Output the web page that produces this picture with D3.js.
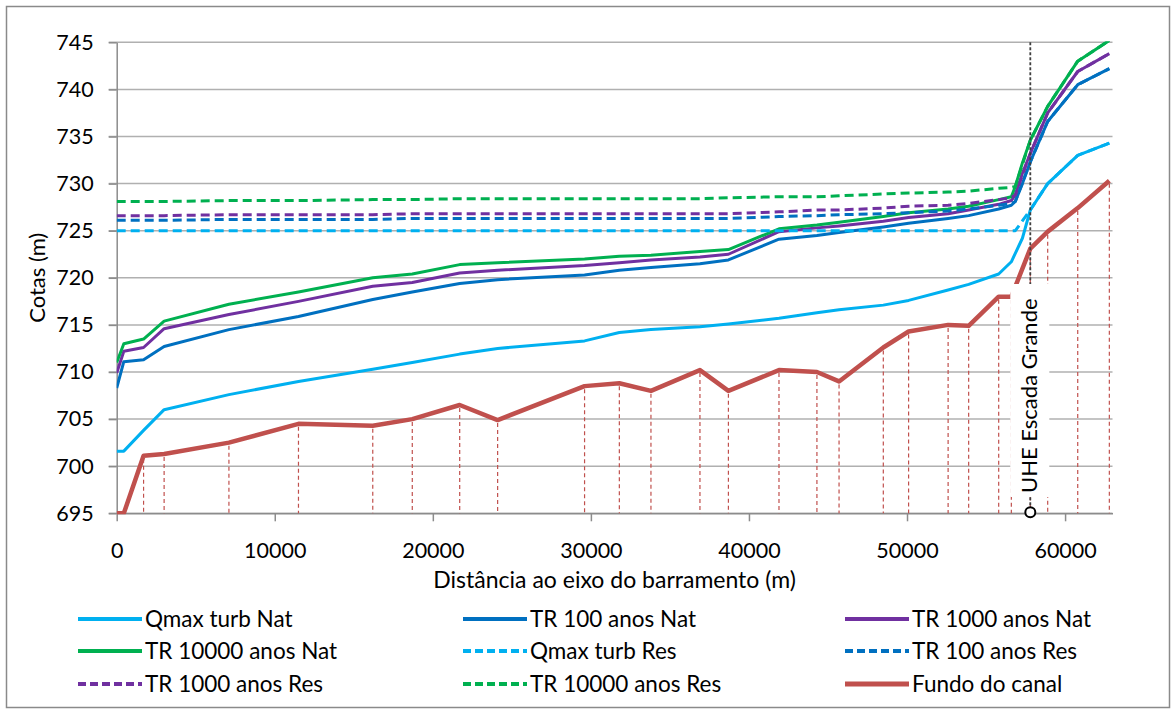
<!DOCTYPE html>
<html lang="pt">
<head>
<meta charset="UTF-8">
<title>Perfil de linha d'água - UHE Escada Grande</title>
<script src="https://cdnjs.cloudflare.com/ajax/libs/d3/7.8.5/d3.min.js"></script>
<style>
  body { margin: 0; background: #fff; }
  svg text { font-family: Lato, "Open Sans", sans-serif; fill: #000; }
</style>
</head>
<body>
<div id="chart"></div>
<script>
// distance of each cross section to the dam axis (m)
const dist = [0, 450, 1700, 3000, 7100, 11500, 16200, 18700, 21700, 24100,
  29600, 31800, 33800, 36900, 38700, 41900, 44300, 45700, 48500, 50100,
  52600, 53900, 55800, 56600, 56850, 57300, 57800, 58900, 60800, 62800];

// water levels (m), null = no value at that section
const qmaxNat = [701.6, 701.6, 703.8, 706.0, 707.6, 709.0, 710.3, 711.0, 711.9, 712.5,
  713.3, 714.2, 714.5, 714.8, 715.1, 715.7, 716.3, 716.6, 717.1, 717.6,
  718.7, 719.3, 720.4, 721.7, 722.6, 724.2, 727.2, 730.0, 733.0, 734.3];
const tr100Nat = [708.3, 711.1, 711.3, 712.7, 714.5, 715.9, 717.7, 718.5, 719.4, 719.8,
  720.3, 720.8, 721.1, 721.5, 721.9, 724.1, 724.5, 724.8, 725.4, 725.8,
  726.3, 726.6, 727.3, 727.7, 728.1, 730.0, 732.3, 736.6, 740.5, 742.2];
const tr1000Nat = [709.9, 712.2, 712.6, 714.6, 716.1, 717.5, 719.1, 719.5, 720.5, 720.8,
  721.3, 721.6, 721.9, 722.2, 722.5, 724.9, 725.3, 725.5, 726.0, 726.4,
  726.8, 727.2, 727.8, 728.2, 728.8, 731.1, 733.2, 737.5, 741.9, 743.8];
const tr10000Nat = [711.0, 713.0, 713.5, 715.4, 717.2, 718.5, 720.0, 720.4, 721.4, 721.6,
  722.0, 722.3, 722.4, 722.8, 723.0, 725.2, 725.6, 725.9, 726.5, 726.9,
  727.3, 727.6, 728.3, 728.6, 729.7, 732.2, 734.6, 738.2, 743.0, 745.2];
const qmaxRes = [725.0, 725.0, 725.0, 725.0, 725.0, 725.0, 725.0, 725.0, 725.0, 725.0,
  725.0, 725.0, 725.0, 725.0, 725.0, 725.0, 725.0, 725.0, 725.0, 725.0,
  725.0, 725.0, 725.0, 725.0, 725.0, null, 727.2, 730.0, 733.0, 734.3];
const tr100Res = [726.1, 726.1, 726.1, 726.1, 726.2, 726.2, 726.2, 726.3, 726.3, 726.3,
  726.3, 726.3, 726.3, 726.3, 726.3, 726.5, 726.6, 726.7, 726.8, 726.9,
  727.1, 727.3, 727.7, 727.9, 728.1, null, 732.3, 736.6, 740.5, 742.2];
const tr1000Res = [726.6, 726.6, 726.6, 726.6, 726.7, 726.7, 726.7, 726.8, 726.8, 726.8,
  726.8, 726.8, 726.8, 726.8, 726.8, 727.0, 727.2, 727.2, 727.4, 727.6,
  727.7, 727.9, 728.3, 728.5, 728.8, null, 733.2, 737.5, 741.9, 743.8];
const tr10000Res = [728.1, 728.1, 728.1, 728.1, 728.2, 728.2, 728.3, 728.3, 728.4, 728.4,
  728.4, 728.4, 728.4, 728.4, 728.5, 728.6, 728.6, 728.7, 728.9, 729.0,
  729.1, 729.2, 729.5, 729.6, 729.7, null, 734.6, 738.2, 743.0, 745.2];
// channel bottom (m)
const fundo = [695.0, 695.0, 701.1, 701.3, 702.5, 704.5, 704.3, 705.0, 706.5, 704.9,
  708.5, 708.8, 708.0, 710.2, 708.0, 710.2, 710.0, 709.0, 712.6, 714.3,
  715.0, 714.9, 718.0, 718.0, null, null, 723.1, 724.9, 727.4, 730.3];

const yTicks = [695, 700, 705, 710, 715, 720, 725, 730, 735, 740, 745];
const xTicks = [0, 10000, 20000, 30000, 40000, 50000, 60000];
const damDist = 57800;

const series = [
  { name: "Qmax turb Nat", values: qmaxNat, color: "#00B0F0", dashed: false },
  { name: "TR 100 anos Nat", values: tr100Nat, color: "#0070C0", dashed: false },
  { name: "TR 1000 anos Nat", values: tr1000Nat, color: "#7030A0", dashed: false },
  { name: "TR 10000 anos Nat", values: tr10000Nat, color: "#00B050", dashed: false },
  { name: "Qmax turb Res", values: qmaxRes, color: "#00B0F0", dashed: true },
  { name: "TR 100 anos Res", values: tr100Res, color: "#0070C0", dashed: true },
  { name: "TR 1000 anos Res", values: tr1000Res, color: "#7030A0", dashed: true },
  { name: "TR 10000 anos Res", values: tr10000Res, color: "#00B050", dashed: true },
  { name: "Fundo do canal", values: fundo, color: "#C0504D", dashed: false, bottom: true }
];

const width = 1172, height = 713;
const svg = d3.select("#chart").append("svg")
  .attr("width", width)
  .attr("height", height);

// outer frame
svg.append("rect")
  .attr("x", 6.5).attr("y", 6.5)
  .attr("width", 1163).attr("height", 701)
  .attr("fill", "#fff")
  .attr("stroke", "#8a8a8a")
  .attr("stroke-width", 1.5);

const x = d3.scaleLinear().domain([0, 63000]).range([116.7, 1112.5]);
const y = d3.scaleLinear().domain([695, 745]).range([513.3, 42.3]);

// gridlines
svg.append("g").selectAll("line")
  .data(yTicks)
  .enter().append("line")
  .attr("x1", x(0) - 8).attr("x2", x(63000))
  .attr("y1", d => y(d)).attr("y2", d => y(d))
  .attr("stroke", "#b0b0b0")
  .attr("stroke-width", 1.5);

// axes
const yAxis = svg.append("g")
  .attr("transform", `translate(${x(0)},0)`)
  .call(d3.axisLeft(y).tickValues(yTicks).tickSize(8).tickPadding(15).tickSizeOuter(0));
const xAxis = svg.append("g")
  .attr("transform", `translate(0,${y(695)})`)
  .call(d3.axisBottom(x).tickValues(xTicks).tickFormat(d3.format("d"))
    .tickSize(8).tickPadding(21).tickSizeOuter(0));

[yAxis, xAxis].forEach(a => {
  a.select(".domain").attr("stroke", "#8c8c8c").attr("stroke-width", 1.5);
  a.selectAll(".tick line").attr("stroke", "#8c8c8c").attr("stroke-width", 1.5);
  a.selectAll(".tick text").style("font-size", "21.5px").style("font-family", "Lato, sans-serif").attr("fill", "#000");
});

// drop lines from channel bottom
svg.append("defs").append("clipPath").attr("id", "plot")
  .append("rect")
  .attr("x", x(0)).attr("y", y(745) - 1)
  .attr("width", x(63000) - x(0) + 4).attr("height", y(695) - y(745) + 2);

const plot = svg.append("g").attr("clip-path", "url(#plot)");

plot.append("g").selectAll("line")
  .data(dist.map((d, i) => [d, fundo[i]]).filter(p => p[1] != null && p[1] > 695))
  .enter().append("line")
  .attr("x1", d => x(d[0])).attr("x2", d => x(d[0]))
  .attr("y1", d => y(d[1]) + 3).attr("y2", y(695))
  .attr("stroke", "#C0504D")
  .attr("stroke-width", 1.2)
  .attr("stroke-dasharray", "4,3");

const line = d3.line()
  .x(d => x(d[0]))
  .y(d => y(d[1]));

series.forEach(s => {
  const pts = dist.map((d, i) => [d, s.values[i]]).filter(p => p[1] != null);
  plot.append("path")
    .datum(pts)
    .attr("d", line)
    .attr("fill", "none")
    .attr("stroke", s.color)
    .attr("stroke-width", s.bottom ? 4.5 : 3)
    .attr("stroke-linejoin", "round")
    .attr("stroke-dasharray", s.dashed ? "9,5" : null);
});

// dam annotation
const xd = x(damDist);
svg.append("line")
  .attr("x1", xd).attr("x2", xd)
  .attr("y1", y(745)).attr("y2", y(695) - 5)
  .attr("stroke", "#404040")
  .attr("stroke-width", 1.8)
  .attr("stroke-dasharray", "3,2");
svg.append("rect")
  .attr("x", xd - 20).attr("y", 284)
  .attr("width", 39).attr("height", 213)
  .attr("fill", "#fff");
svg.append("text")
  .attr("transform", `translate(${xd + 7},493) rotate(-90)`)
  .style("font-size", "22px")
  .text("UHE Escada Grande");
svg.append("circle")
  .attr("cx", xd).attr("cy", y(695) - 1)
  .attr("r", 5)
  .attr("fill", "#fff")
  .attr("stroke", "#000")
  .attr("stroke-width", 2);

// axis titles
svg.append("text")
  .attr("x", (x(0) + x(63000)) / 2).attr("y", 588)
  .attr("text-anchor", "middle")
  .style("font-size", "23px")
  .text("Distância ao eixo do barramento (m)");
svg.append("text")
  .attr("transform", `translate(45,${(y(695) + y(745)) / 2}) rotate(-90)`)
  .attr("text-anchor", "middle")
  .style("font-size", "22px")
  .text("Cotas (m)");

// legend
const legendCols = [78, 463, 845];
const legendRows = [619, 651, 684];
const legend = svg.append("g").selectAll("g")
  .data(series)
  .enter().append("g")
  .attr("transform", (d, i) => `translate(${legendCols[i % 3]},${legendRows[Math.floor(i / 3)]})`);
legend.append("line")
  .attr("x1", 0).attr("x2", 64)
  .attr("stroke", d => d.color)
  .attr("stroke-width", d => d.bottom ? 5 : 4)
  .attr("stroke-dasharray", d => d.dashed ? "8,4" : null);
legend.append("text")
  .attr("x", 67).attr("dy", "0.35em")
  .style("font-size", "22.5px")
  .text(d => d.name);
</script>
</body>
</html>
